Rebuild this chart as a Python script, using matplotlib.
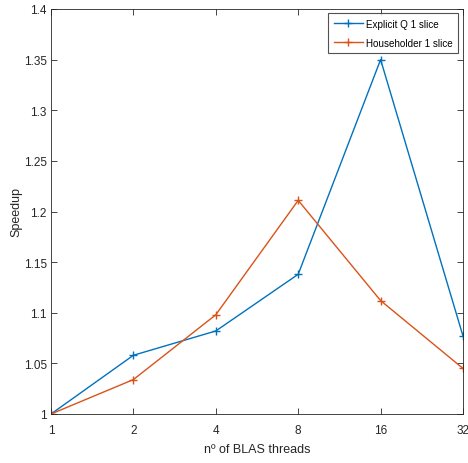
import matplotlib
matplotlib.use("Agg")
import matplotlib.pyplot as plt

threads = [1, 2, 4, 8, 16, 32]
explicit_q = [1.0, 1.058, 1.082, 1.138, 1.350, 1.077]
householder = [1.0, 1.034, 1.098, 1.211, 1.112, 1.045]
y_ticks = [1.0, 1.05, 1.1, 1.15, 1.2, 1.25, 1.3, 1.35, 1.4]
y_tick_labels = ["1", "1.05", "1.1", "1.15", "1.2", "1.25", "1.3", "1.35", "1.4"]
x_tick_labels = ["1", "2", "4", "8", "16", "32"]

plt.rcParams['font.family'] = ['Liberation Sans', 'DejaVu Sans']

fig = plt.figure(figsize=(4.68, 4.64), dpi=100)
ax = fig.add_axes([51/468, 49/464, 412/468, 405/464])

ax.plot(threads, explicit_q, color='#0072BD', marker='+', markersize=6, linewidth=1.0,
        label='Explicit Q 1 slice')
ax.plot(threads, householder, color='#D95319', marker='+', markersize=6, linewidth=1.0,
        label='Householder 1 slice')

ax.set_xscale('log', base=2)
ax.set_xlim(1, 32)
ax.set_ylim(1.0, 1.4)
ax.set_xticks(threads)
ax.set_xticklabels(x_tick_labels)
ax.set_yticks(y_ticks)
ax.set_yticklabels(y_tick_labels)
ax.minorticks_off()
ax.tick_params(direction='in', length=4, width=0.6, labelsize=8.5, colors='#262626',
               top=True, right=True)
ax.tick_params(axis='x', pad=7)
ax.tick_params(axis='y', pad=3)
for s in ax.spines.values():
    s.set_color('#262626')
    s.set_linewidth(0.6)

ax.set_xlabel('nº of BLAS threads', fontsize=9, color='#262626', labelpad=5)
ax.set_ylabel('Speedup', fontsize=9, color='#262626', labelpad=1)

leg = ax.legend(loc='upper right', fontsize=7.1, frameon=True, fancybox=False,
                edgecolor='#262626', handlelength=3.0, borderaxespad=0.35,
                handletextpad=0.3, labelspacing=0.9, borderpad=0.55,
                bbox_to_anchor=(0.997, 0.998))
leg.get_frame().set_linewidth(0.8)

fig.savefig('out.png', dpi=100)
